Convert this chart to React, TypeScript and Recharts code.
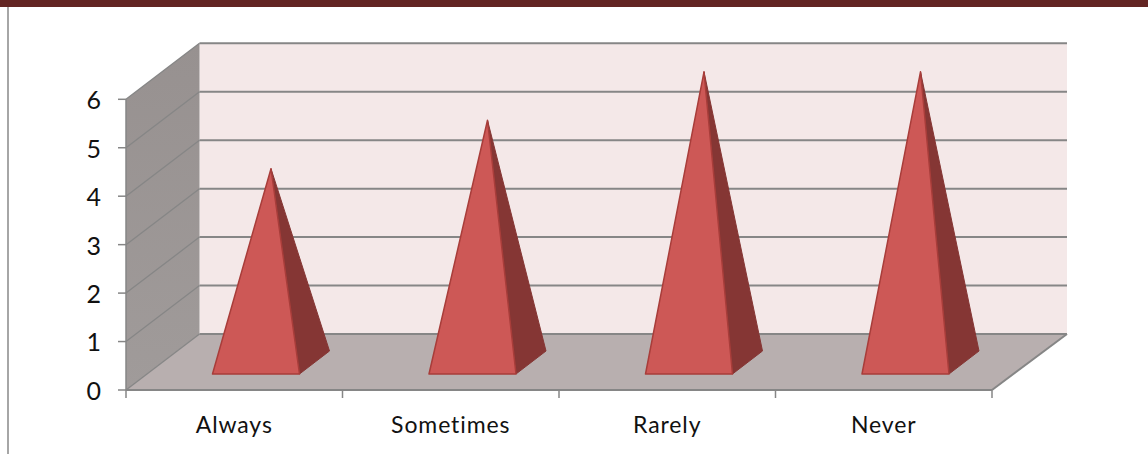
import React from "react";
import { Bar, BarChart, Customized, XAxis, YAxis } from "recharts";

const categories = ["Always", "Sometimes", "Rarely", "Never"];
const responses = [4, 5, 6, 6];
const yTicks = [0, 1, 2, 3, 4, 5, 6];

const chartData = categories.map((name, index) => ({
  name,
  responses: responses[index],
}));

const WIDTH = 1148;
const HEIGHT = 454;

// Plot area of the front plane
const LEFT = 126;
const RIGHT = 992;
const TOP = 99.3;
const BOTTOM = 390;

// Depth of the 3D box
const DEPTH_X = 73.5;
const DEPTH_Y = 56;

const AXIS_COLOR = "#868686";

const unitY = (BOTTOM - TOP) / 6;
const bandWidth = (RIGHT - LEFT) / categories.length;

// Side wall, back wall and floor with their gridlines
const Walls = () => {
  const backLeft = LEFT + DEPTH_X;
  const backRight = RIGHT + DEPTH_X + 1.5;
  const backBottom = BOTTOM - DEPTH_Y;
  const backTop = TOP - DEPTH_Y;

  return (
    <g>
      <defs>
        <linearGradient id="sideWall" x1="0" y1="0" x2="0" y2="1">
          <stop offset="0%" stopColor="#979190" />
          <stop offset="100%" stopColor="#a09b9a" />
        </linearGradient>
      </defs>
      <polygon
        points={`${backLeft},${backTop} ${backRight},${backTop} ${backRight},${backBottom} ${backLeft},${backBottom}`}
        fill="#f4e8e8"
      />
      <polygon
        points={`${LEFT},${TOP} ${backLeft},${backTop} ${backLeft},${backBottom} ${LEFT},${BOTTOM}`}
        fill="url(#sideWall)"
      />
      <polygon
        points={`${LEFT},${BOTTOM} ${backLeft},${backBottom} ${backRight},${backBottom} ${RIGHT},${BOTTOM}`}
        fill="#b8afaf"
      />
      {yTicks.map((tick) => {
        const frontY = BOTTOM - tick * unitY;
        const backY = frontY - DEPTH_Y;
        return (
          <g key={tick} fill="none" stroke={AXIS_COLOR}>
            <line x1={LEFT} y1={frontY} x2={backLeft} y2={backY} strokeWidth={1.3} />
            <line x1={backLeft} y1={backY} x2={backRight} y2={backY} strokeWidth={2} />
          </g>
        );
      })}
      <line x1={RIGHT} y1={BOTTOM} x2={backRight} y2={backBottom} stroke={AXIS_COLOR} strokeWidth={2} />
    </g>
  );
};

// Category label, with the tick marks sitting on the band edges
const CategoryTick = (props: any) => {
  const { x, y, payload, index } = props;
  const edge = x - bandWidth / 2;
  return (
    <g>
      <line x1={edge} y1={BOTTOM} x2={edge} y2={BOTTOM + 8} stroke={AXIS_COLOR} strokeWidth={1.5} />
      {index === categories.length - 1 && (
        <line x1={RIGHT} y1={BOTTOM} x2={RIGHT} y2={BOTTOM + 8} stroke={AXIS_COLOR} strokeWidth={1.5} />
      )}
      <text x={x} y={y + 34.5} textAnchor="middle" fill="#111" fontSize={23} letterSpacing={0.9}>
        {payload.value}
      </text>
    </g>
  );
};

// Pyramid standing on the floor, slightly in front of the back wall
const Pyramid = (props: any) => {
  const { x, y, width, height } = props;
  const baseY = y + height - 16;
  const frontLeft = x + 21.5;
  const frontRight = frontLeft + width;
  const backRight = frontRight + 30;
  const backY = baseY - 23;
  const apexX = (frontLeft + backRight) / 2;
  const apexY = y - 27.5;

  return (
    <g strokeLinejoin="round">
      <polygon
        points={`${frontRight},${baseY} ${backRight},${backY} ${apexX},${apexY}`}
        fill="#853634"
        stroke="#853634"
        strokeWidth={1}
      />
      <polygon
        points={`${frontLeft},${baseY} ${frontRight},${baseY} ${apexX},${apexY}`}
        fill="#cd5856"
        stroke="#a83d3a"
        strokeWidth={1.5}
      />
    </g>
  );
};

export default function App() {
  return (
    <div style={{ position: "absolute", left: 0, top: 0, width: WIDTH, height: HEIGHT, background: "#fff", overflow: "hidden" }}>
      <div style={{ position: "absolute", left: 0, top: 0, width: WIDTH, height: 7, background: "#632523" }} />
      <div style={{ position: "absolute", left: 7, top: 7, width: 2, height: HEIGHT - 7, background: "#a6a6a6" }} />
      <BarChart
        width={WIDTH}
        height={HEIGHT}
        data={chartData}
        margin={{ top: TOP, right: WIDTH - RIGHT, bottom: 14, left: LEFT - 60 }}
        barSize={87}
        style={{ fontFamily: "Lato, sans-serif" }}
      >
        <Customized component={Walls} />
        <XAxis
          dataKey="name"
          height={HEIGHT - BOTTOM - 14}
          interval={0}
          tickLine={false}
          axisLine={{ stroke: AXIS_COLOR, strokeWidth: 2 }}
          tick={CategoryTick}
        />
        <YAxis
          width={60}
          domain={[0, 6]}
          ticks={yTicks}
          interval={0}
          tickSize={8}
          tickMargin={17}
          axisLine={{ stroke: AXIS_COLOR, strokeWidth: 1.5 }}
          tickLine={{ stroke: AXIS_COLOR, strokeWidth: 1.5 }}
          tick={{ fill: "#111", fontSize: 25, dy: 1 }}
        />
        <Bar dataKey="responses" shape={Pyramid} isAnimationActive={false} />
      </BarChart>
    </div>
  );
}
